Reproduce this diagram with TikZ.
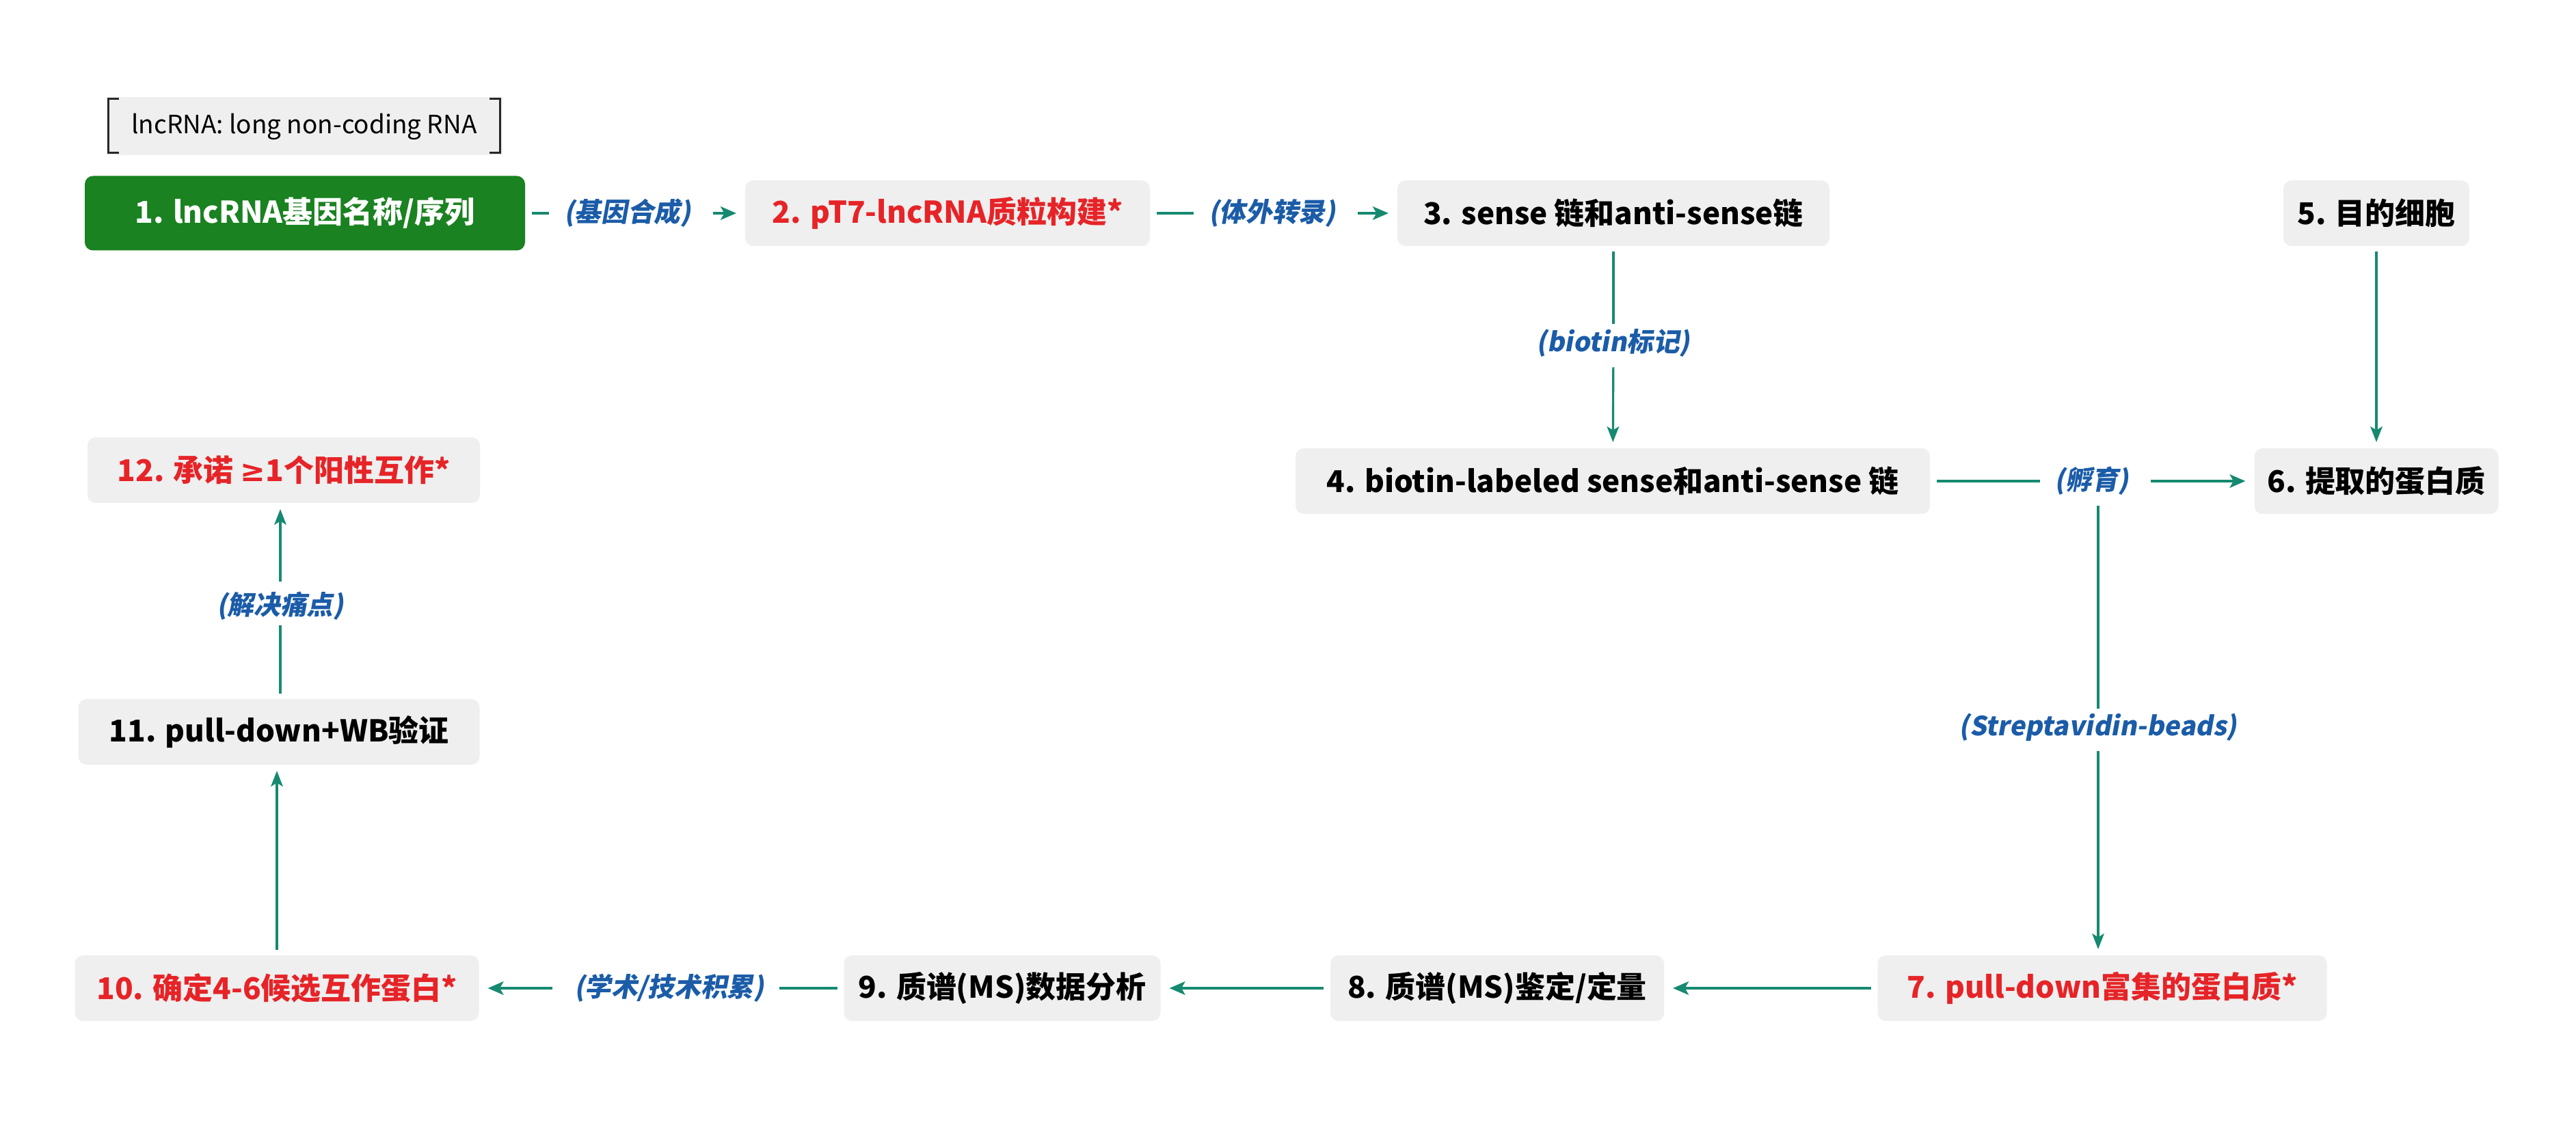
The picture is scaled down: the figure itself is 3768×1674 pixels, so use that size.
\documentclass[tikz,border=0pt]{standalone}
\usepackage{fontspec}
\setmainfont{Noto Sans CJK SC}
\newfontfamily\lblfont{Noto Sans CJK SC}[FakeSlant=0.18]
\newfontfamily\symfont{DejaVu Sans}
\usetikzlibrary{arrows.meta}
\definecolor{boxgreen}{RGB}{26,130,32}
\definecolor{boxgray}{RGB}{239,239,239}
\definecolor{txtred}{RGB}{230,36,40}
\definecolor{lblblue}{RGB}{27,92,168}
\definecolor{conncol}{RGB}{22,138,112}
\definecolor{brk}{RGB}{40,40,40}
\tikzset{
  graybox/.style={fill=boxgray, rounded corners=1.2mm, minimum height=9.6mm, inner sep=0pt, outer sep=0pt,
    font=\fontsize{12.5pt}{15pt}\selectfont\bfseries},
  greenbox/.style={fill=boxgreen, rounded corners=1.2mm, minimum height=10.9mm, inner sep=0pt, outer sep=0pt,
    text=white, font=\fontsize{12.5pt}{15pt}\selectfont\bfseries},
  redtxt/.style={text=txtred},
  lbl/.style={text=lblblue, inner xsep=2.2mm, inner ysep=0.7mm, outer sep=0pt,
    font=\fontsize{11pt}{13pt}\selectfont\lblfont\bfseries},
  hconn/.style={draw=conncol, line width=1.4pt, shorten <=1mm},
  harr/.style={hconn, -{Stealth[length=6.5pt,width=5.5pt,inset=1.5pt]}, shorten >=1.3mm},
  vconn/.style={draw=conncol, line width=0.9pt, shorten <=0.8mm},
  varr/.style={vconn, -{Stealth[length=6.5pt,width=5pt,inset=1.5pt]}, shorten >=0.9mm},
}
\begin{document}
\begin{tikzpicture}[x=0.1mm,y=-0.1mm]
\useasboundingbox (0,0) rectangle (3768,1674);
\fill[white] (0,0) rectangle (3768,1674);

% legend
\node[fill=boxgray, minimum width=57.9mm, minimum height=8.5mm, inner sep=0pt,
  font=\fontsize{10.5pt}{12pt}\selectfont] (legend) at (445,185) {lncRNA: long non-coding RNA};
\draw[brk, line width=0.9pt] ([xshift=1.9mm,yshift=-0.3mm]legend.north west) -- ([xshift=0.4mm,yshift=-0.3mm]legend.north west)
  -- ([xshift=0.4mm,yshift=0.5mm]legend.south west) -- ([xshift=1.9mm,yshift=0.5mm]legend.south west);
\draw[brk, line width=0.9pt] ([xshift=-1.9mm,yshift=-0.3mm]legend.north east) -- ([xshift=-0.4mm,yshift=-0.3mm]legend.north east)
  -- ([xshift=-0.4mm,yshift=0.5mm]legend.south east) -- ([xshift=-1.9mm,yshift=0.5mm]legend.south east);

% top row
\node[greenbox, minimum width=64.4mm] (n1) at (446,312) {1. lncRNA基因名称/序列};
\node[graybox, redtxt, minimum width=59.2mm] (n2) at (1386,312) {2. pT7-lncRNA质粒构建*};
\node[graybox, minimum width=63.2mm] (n3) at (2360,312) {3. sense 链和anti-sense链};
\node[graybox, minimum width=27.2mm] (n5) at (3476,312) {5. 目的细胞};

% second row
\node[graybox, minimum width=92.8mm] (n4) at (2359,704) {4. biotin-labeled sense和anti-sense 链};
\node[graybox, minimum width=35.7mm] (n6) at (3476,704) {6. 提取的蛋白质};
\node[graybox, redtxt, minimum width=57.4mm] (n12) at (415,688) {12. 承诺 {\symfont\bfseries ≥}1个阳性互作*};

% middle
\node[graybox, minimum width=58.7mm] (n11) at (408,1071) {11. pull-down+WB验证};

% bottom row
\node[graybox, redtxt, minimum width=65.7mm] (n7) at (3075,1446) {7. pull-down富集的蛋白质*};
\node[graybox, minimum width=48.8mm] (n8) at (2190,1446) {8. 质谱(MS)鉴定/定量};
\node[graybox, minimum width=46.3mm] (n9) at (1466,1446) {9. 质谱(MS)数据分析};
\node[graybox, redtxt, minimum width=59.1mm] (n10) at (405,1446) {10. 确定4-6候选互作蛋白*};

% labels
\node[lbl] (L1) at (918,312) {(基因合成)};
\node[lbl] (L2) at (1861,312) {(体外转录)};
\node[lbl] (L3) at (2360,502) {(biotin标记)};
\node[lbl] (L4) at (3060,704) {(孵育)};
\node[lbl] (L5) at (3069,1064) {(Streptavidin-beads)};
\node[lbl] (L6) at (979,1446) {(学术/技术积累)};
\node[lbl] (L7) at (410,887) {(解决痛点)};

% connectors
\draw[hconn] (n1) -- (L1);
\draw[harr] (L1) -- (n2);
\draw[hconn] (n2) -- (L2);
\draw[harr] (L2) -- (n3);
\draw[vconn] (n3) -- (L3);
\draw[varr] (L3) -- (n4);
\draw[varr] (n5) -- (n6);
\draw[hconn] (n4) -- (L4);
\draw[harr] (L4) -- (n6);
\draw[vconn] (L4.south -| L5.north) -- (L5.north);
\draw[varr] (L5.south) -- (L5.south |- n7.north);
\draw[harr] (n7) -- (n8);
\draw[harr] (n8) -- (n9);
\draw[hconn] (n9) -- (L6);
\draw[harr] (L6) -- (n10);
\draw[varr] (n10.north) -- (n10.north |- n11.south);
\draw[vconn] (n11.north -| L7.south) -- (L7.south);
\draw[varr] (L7.north) -- (L7.north |- n12.south);
\end{tikzpicture}
\end{document}
